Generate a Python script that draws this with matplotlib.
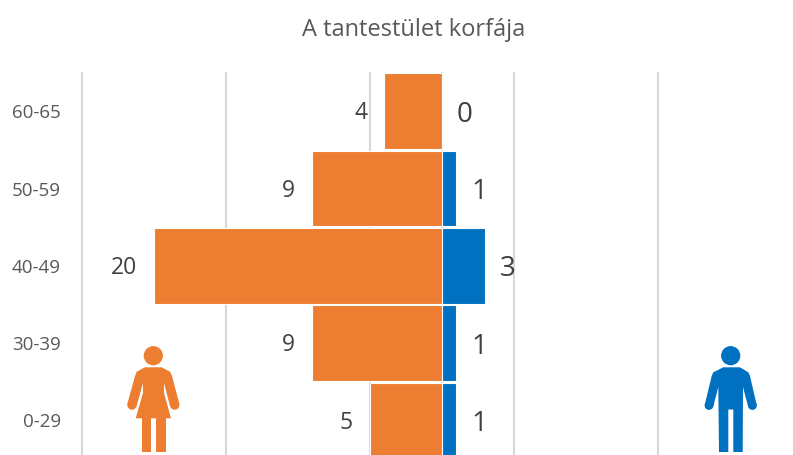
import matplotlib
matplotlib.use("Agg")
import matplotlib.pyplot as plt
from matplotlib.patches import Circle, Polygon

W, H = 793, 455
categories = ["0-29", "30-39", "40-49", "50-59", "60-65"]
women = [5, 9, 20, 9, 4]
men = [1, 1, 3, 1, 0]
x_ticks = [-25, -15, -5, 0, 5, 15]
title = "A tantestület korfája"
ORANGE, BLUE, GRID, TXT = "#ED7D31", "#0070C0", "#D9D9D9", "#595959"
FONT = "Open Sans"
plt.rcParams["font.family"] = [FONT, "DejaVu Sans"]

fig = plt.figure(figsize=(W / 100, H / 100), dpi=100, facecolor="white")
left, right, top, bottom = 81.6, 657.6, 72.6, 459.1
ax = fig.add_axes([left / W, 1 - bottom / H, (right - left) / W, (bottom - top) / H])
ax.set_xlim(-25, 15)
ax.set_ylim(-0.5, 4.5)
ax.set_xticks(x_ticks)
ax.tick_params(axis="x", length=0, labelbottom=False)
ax.tick_params(axis="y", length=0, pad=15, labelsize=13.5, labelcolor=TXT)
ax.set_yticks(range(len(categories)))
ax.set_yticklabels(categories)
ax.grid(axis="x", color=GRID, linewidth=1.5, clip_on=False)
ax.set_axisbelow(True)
for s in ax.spines.values():
    s.set_visible(False)

ypos = list(range(len(categories)))
ax.barh(ypos, [-v for v in women], height=0.98, color=ORANGE, edgecolor="white", linewidth=0.8)
ax.barh(ypos, men, height=0.98, color=BLUE, edgecolor="white", linewidth=0.8)

for y, v in zip(ypos, women):
    ax.annotate(str(v), (-v, y), xytext=(-12, -1.5), textcoords="offset points", ha="right",
                va="center", fontsize=16.5, color="#404040")
for y, v in zip(ypos, men):
    ax.annotate(str(v), (v, y), xytext=(11, -2.5), textcoords="offset points", ha="left",
                va="center", fontsize=20, color="#404040")

fig.text(413.5 / W, 1 - 29.5 / H, title, ha="center", va="center", fontsize=17, color=TXT)

# Decorative person pictograms, in a pixel-space overlay
ov = fig.add_axes([0, 0, 1, 1])
ov.set_xlim(0, W)
ov.set_ylim(H, 0)
ov.axis("off")
ov.patch.set_alpha(0)

def shape(pts, c):
    ov.add_patch(Polygon(pts, closed=True, color=c, lw=0))

def dot(x, y, r, c):
    ov.add_patch(Circle((x, y), r, color=c, lw=0))

# woman
dot(153.3, 355.7, 9.6, ORANGE)
dot(132, 405, 4.7, ORANGE)
dot(174.7, 405, 4.7, ORANGE)
shape([(145, 367.3), (161.7, 367.3), (170, 371.7), (172, 376), (179.4, 404), (170, 406),
       (164, 383), (164, 393), (171, 418.3), (135.7, 418.3), (143, 393), (143, 383),
       (136.7, 406), (127.3, 404), (135, 376), (136.7, 371.7)], ORANGE)
shape([(141.7, 418), (151, 418), (151, 452), (141.7, 452)], ORANGE)
shape([(156, 418), (165.7, 418), (165.7, 452), (156, 452)], ORANGE)

# man
dot(730.7, 355.7, 9.6, BLUE)
dot(709, 405.5, 4.4, BLUE)
dot(752.4, 405.5, 4.4, BLUE)
shape([(723.3, 367.3), (740, 367.3), (748.3, 372.3), (750, 376), (756.7, 405), (748.1, 406.5),
       (743, 387), (742.7, 452), (733.3, 452), (733.3, 409.5), (728.3, 409.5), (728.3, 452),
       (719, 452), (718.3, 387), (713.3, 406.5), (704.7, 405), (711.7, 376), (713.3, 372.3)], BLUE)

fig.savefig("out.png", dpi=100)
